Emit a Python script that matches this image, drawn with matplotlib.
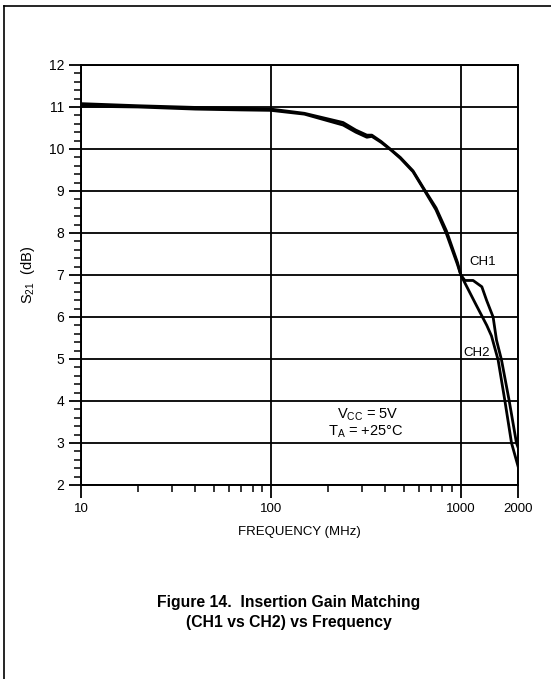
import numpy as np
import matplotlib.pyplot as plt
from matplotlib.lines import Line2D
from matplotlib.ticker import FixedLocator, NullFormatter

plt.rcParams['font.family'] = ['Liberation Sans', 'DejaVu Sans']
plt.rcParams['mathtext.fontset'] = 'custom'
plt.rcParams['mathtext.rm'] = 'Liberation Sans'
plt.rcParams['mathtext.it'] = 'Liberation Sans'

# insertion gain S21 (dB) for each channel
ch1_freq = [10, 20, 40, 70, 100, 150, 240, 280, 320, 340, 380, 430, 480,
            560, 640, 740, 840, 960, 1000, 1050, 1160, 1290, 1366, 1479,
            1541, 1637, 1795, 1963, 2000]
ch1_gain = [11.08, 11.03, 10.99, 10.97, 10.95, 10.85, 10.63, 10.45, 10.33,
            10.33, 10.18, 9.98, 9.80, 9.48, 9.05, 8.60, 8.05, 7.30, 7.00,
            6.87, 6.87, 6.72, 6.40, 6.00, 5.45, 4.98, 4.02, 3.00, 2.90]

ch2_freq = [10, 20, 40, 70, 100, 150, 240, 280, 320, 340, 380, 430, 480,
            560, 640, 740, 840, 960, 1000, 1200, 1370, 1450, 1571, 1704,
            1849, 2000]
ch2_gain = [11.02, 11.00, 10.95, 10.93, 10.92, 10.83, 10.57, 10.40, 10.28,
            10.30, 10.16, 9.97, 9.78, 9.46, 9.03, 8.55, 7.98, 7.25, 7.00,
            6.30, 5.80, 5.55, 4.98, 4.02, 3.00, 2.45]

x_major = [10, 100, 1000, 2000]
x_major_labels = ['10', '100', '1000', '2000']
x_minor = [20, 30, 40, 50, 60, 70, 80, 90,
           200, 300, 400, 500, 600, 700, 800, 900]
y_major = list(range(2, 13))

fig = plt.figure(figsize=[5.51, 6.79], dpi=100)
ax = fig.add_axes([81 / 551, 1 - 485 / 679, 437 / 551, 420 / 679])

ax.plot(ch1_freq, ch1_gain, color='black', linewidth=2.0,
        solid_joinstyle='round')
ax.plot(ch2_freq, ch2_gain, color='black', linewidth=2.0,
        solid_joinstyle='round')

ax.set_xscale('log')
ax.set_xlim(10, 2000)
ax.set_ylim(2, 12)

ax.xaxis.set_major_locator(FixedLocator(x_major))
ax.set_xticklabels(x_major_labels)
ax.xaxis.set_minor_locator(FixedLocator(x_minor))
ax.xaxis.set_minor_formatter(NullFormatter())
ax.yaxis.set_major_locator(FixedLocator(y_major))
ax.yaxis.set_minor_locator(FixedLocator(np.arange(2, 12.01, 0.2)))

ax.tick_params(axis='both', which='major', direction='out', length=9,
               width=1.3, color='black', pad=3)
ax.tick_params(axis='x', which='major', labelsize=9.5, pad=4)
ax.tick_params(axis='y', which='major', labelsize=10)
ax.tick_params(axis='both', which='minor', direction='out', length=5,
               width=1.1, color='black')
ax.grid(True, which='major', color='black', linewidth=1.3)
for side in ax.spines.values():
    side.set_linewidth(1.4)

ax.set_ylabel(r'$\mathregular{S_{21}}$  (dB)', fontsize=10.5)
ax.yaxis.set_label_coords(-0.10, 0.5)
ax.set_xlabel('FREQUENCY (MHz)', fontsize=9.5)
ax.xaxis.set_label_coords(0.5, -0.098)

ax.text(1306, 7.31, 'CH1', fontsize=9.5, ha='center', va='center')
ax.text(1213, 5.14, 'CH2', fontsize=9.5, ha='center', va='center')
ax.text(322, 3.67, r'$\mathregular{V_{CC}}$ = 5V', fontsize=10.5,
        ha='center', va='center')
ax.text(316, 3.26, r'$\mathregular{T_{A}}$ = +25°C', fontsize=10.5,
        ha='center', va='center')

fig.text(289 / 551, 1 - 603 / 679, 'Figure 14.  Insertion Gain Matching',
         fontsize=11.3, fontweight='bold', ha='center', va='center')
fig.text(289 / 551, 1 - 622 / 679, '(CH1 vs CH2) vs Frequency',
         fontsize=11.3, fontweight='bold', ha='center', va='center')

# page frame around the figure
fig.add_artist(Line2D([4 / 551, 1.0], [1 - 6 / 679, 1 - 6 / 679],
                      color='black', linewidth=1.2))
fig.add_artist(Line2D([4 / 551, 4 / 551], [0.0, 1 - 6 / 679],
                      color='black', linewidth=1.2))

fig.savefig('out.png', dpi=100)
